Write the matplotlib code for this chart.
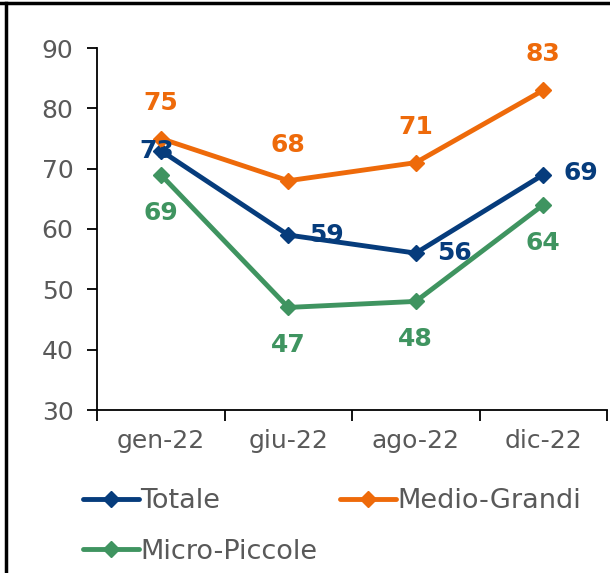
import matplotlib.pyplot as plt
from matplotlib.lines import Line2D

mesi = ['gen-22', 'giu-22', 'ago-22', 'dic-22']
totale = [73, 59, 56, 69]
medio_grandi = [75, 68, 71, 83]
micro_piccole = [69, 47, 48, 64]

blu = '#063C7C'
arancio = '#EE6A0A'
verde = '#3F9460'
grigio = '#595959'

plt.rcParams['font.family'] = ['DejaVu Sans']

fig = plt.figure(figsize=(6.1, 5.73), dpi=100)
ax = fig.add_axes([97 / 610, 1 - 410 / 573, 510 / 610, 362 / 573])

x = list(range(len(mesi)))
serie = [
    ('Totale', totale, blu),
    ('Medio-Grandi', medio_grandi, arancio),
    ('Micro-Piccole', micro_piccole, verde),
]
linee = {}
for nome, vals, col in serie:
    linee[nome], = ax.plot(x, vals, color=col, lw=3.5, marker='D', ms=8, label=nome,
                           solid_capstyle='round')

# etichette dati (offset in pixel)
off_tot = [(-4, 0), (38, 0), (39, 0), (38, 2)]
for i, v in enumerate(totale):
    ax.annotate(str(v), (i, v), xytext=off_tot[i], textcoords='offset pixels',
                ha='center', va='center', color=blu, fontsize=18, fontweight='bold')
for i, v in enumerate(medio_grandi):
    ax.annotate(str(v), (i, v), xytext=(0, 36), textcoords='offset pixels',
                ha='center', va='center', color=arancio, fontsize=18, fontweight='bold')
for i, v in enumerate(micro_piccole):
    ax.annotate(str(v), (i, v), xytext=(0, -38), textcoords='offset pixels',
                ha='center', va='center', color=verde, fontsize=18, fontweight='bold')

ax.set_xlim(-0.5, 3.5)
ax.set_ylim(30, 90)
ax.set_yticks(range(30, 91, 10))
ax.set_xticks(x)
ax.set_xticklabels(mesi)
ax.set_xticks([-0.5, 0.5, 1.5, 2.5, 3.5], minor=True)
ax.tick_params(axis='x', which='major', length=0, pad=14, labelsize=18, labelcolor=grigio)
ax.tick_params(axis='x', which='minor', length=8, width=1.3, direction='out')
ax.tick_params(axis='y', length=7, width=1.3, direction='out', pad=10,
               labelsize=18, labelcolor=grigio)
for s in ['top', 'right']:
    ax.spines[s].set_visible(False)
for s in ['left', 'bottom']:
    ax.spines[s].set_linewidth(1.3)

ordine = ['Totale', 'Micro-Piccole', 'Medio-Grandi']
leg = fig.legend([linee[n] for n in ordine], ordine, loc='upper left',
                 bbox_to_anchor=(59 / 610, 1 - 464 / 573), ncol=2,
                 frameon=False, fontsize=19.5, handlelength=2.05, handletextpad=0.05,
                 columnspacing=0.85, labelspacing=0.9, labelcolor=grigio)

# cornice del riquadro
fig.add_artist(Line2D([0, 1], [1 - 3 / 573, 1 - 3 / 573], color='black', lw=2.5,
                      transform=fig.transFigure))
fig.add_artist(Line2D([6 / 610, 6 / 610], [0, 1 - 3 / 573], color='black', lw=2.5,
                      transform=fig.transFigure))

fig.savefig('out.png', dpi=100)
